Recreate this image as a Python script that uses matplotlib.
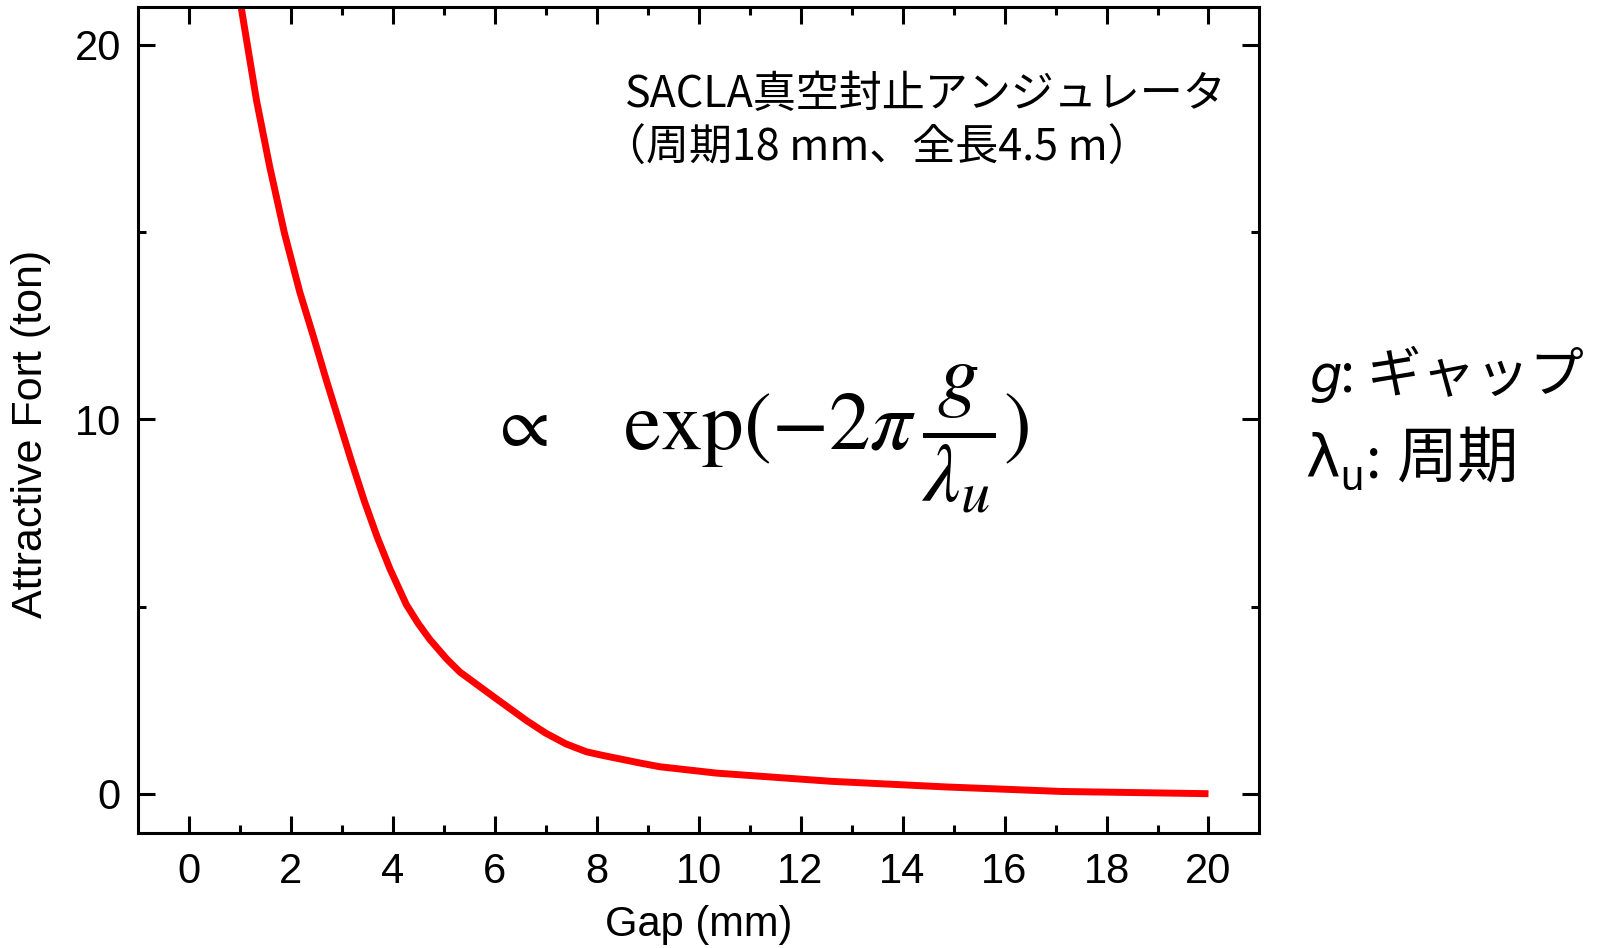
import matplotlib
matplotlib.use("Agg")
import matplotlib.pyplot as plt

# values
gap_mm = [1.0, 1.034, 1.33, 1.59, 1.88, 2.18, 2.45, 2.70, 2.95, 3.20, 3.45,
          3.70, 3.95, 4.27, 4.50, 4.73, 5.06, 5.32, 5.97, 6.63, 7.0, 7.4,
          7.8, 8.13, 8.85, 9.24, 10.35, 12.61, 14.86, 17.11, 20.0]
force_ton = [21.3, 20.98, 18.53, 16.75, 14.97, 13.40, 12.20, 11.05, 9.95,
             8.85, 7.80, 6.85, 6.00, 5.05, 4.55, 4.12, 3.60, 3.25, 2.60, 1.95,
             1.62, 1.33, 1.12, 1.02, 0.82, 0.72, 0.55, 0.33, 0.18, 0.06, 0.0]

x_major = list(range(0, 21, 2))
x_minor = list(range(1, 20, 2))
y_major = [0, 10, 20]
y_minor = [5, 15]

title_lines = ["SACLA真空封止アンジュレータ", "（周期18 mm、全長4.5 m）"]

SANS = ["Liberation Sans", "DejaVu Sans"]
JP = ["Noto Sans CJK JP", "DejaVu Sans"]

fig = plt.figure(figsize=(16.02, 9.48), dpi=100)
ax = fig.add_axes([0.0859, 0.1213, 0.7003, 0.8708])

ax.plot(gap_mm, force_ton, color="#ff0000", linewidth=5,
        solid_capstyle="butt", solid_joinstyle="round")

ax.set_xlim(-1, 21)
ax.set_ylim(-1.05, 21)
ax.set_xticks(x_major)
ax.set_xticks(x_minor, minor=True)
ax.set_yticks(y_major)
ax.set_yticks(y_minor, minor=True)

for s in ax.spines.values():
    s.set_linewidth(2.2)
ax.tick_params(which="both", direction="in", top=True, right=True, width=2.2)
ax.tick_params(which="major", length=12)
ax.tick_params(which="minor", length=6)
ax.tick_params(axis="x", pad=14)
ax.tick_params(axis="y", pad=12)
for lab in ax.get_xticklabels() + ax.get_yticklabels():
    lab.set_family(SANS)
    lab.set_fontsize(30)

ax.set_xlabel("Gap (mm)", family=SANS, fontsize=30, labelpad=9)
ax.set_ylabel("Attractive Fort (ton)", family=SANS, fontsize=31)
ax.yaxis.set_label_coords(-0.077, 0.483)

# annotation block at upper right
ax.text(8.56, 18.34, title_lines[0], family=JP, fontsize=31, va="baseline")
ax.text(8.13, 16.90, title_lines[1], family=JP, fontsize=31, va="baseline")

# proportionality formula
ax.text(6.47, 9.29, r"$\propto$", fontsize=52, math_fontfamily="stix",
        ha="center", va="baseline")
ax.text(8.52, 9.19, r"$\exp(-2\pi\,\dfrac{g}{\lambda_u})$", fontsize=60,
        math_fontfamily="stix", va="baseline")

# legend of symbols outside the axes (pixel positions from the top-left)
W, H = 1602, 948
fig.text(1309 / W, 1 - 392 / H, "g", family=["DejaVu Sans"], style="italic",
         fontsize=37, va="baseline")
fig.text(1340 / W, 1 - 392 / H, ": ギャップ", family=JP, fontsize=39,
         va="baseline")
fig.text(1305 / W, 1 - 477 / H, "λ", family=["DejaVu Sans"], fontsize=42,
         va="baseline")
fig.text(1340 / W, 1 - 490 / H, "u", family=SANS, fontsize=30, va="baseline")
fig.text(1366 / W, 1 - 477 / H, ":", family=JP, fontsize=40, va="baseline")
fig.text(1397 / W, 1 - 477 / H, "周期", family=JP, fontsize=44, va="baseline")

fig.savefig("out.png", dpi=100)
